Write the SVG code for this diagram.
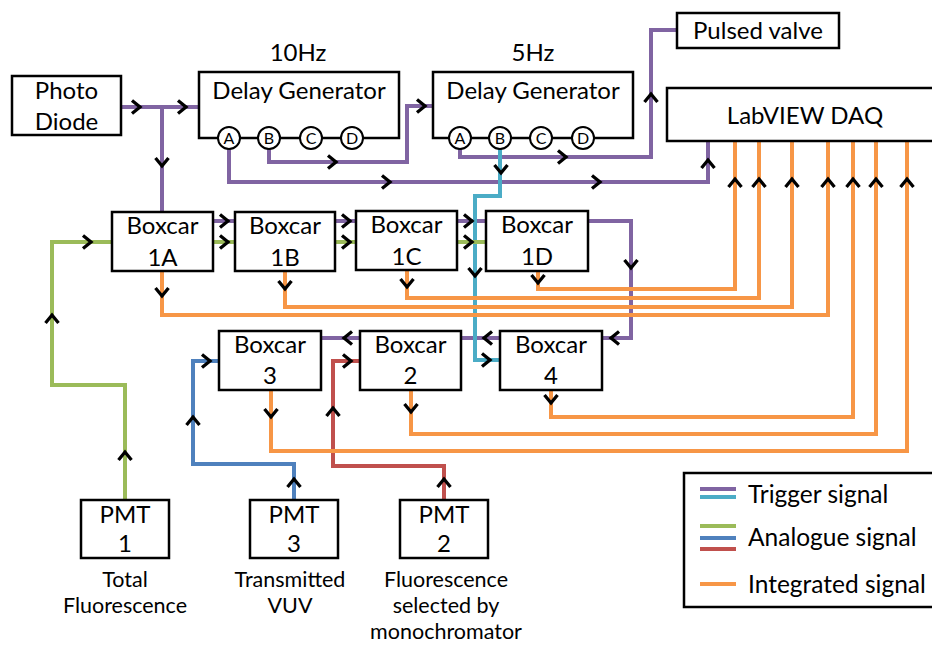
<svg xmlns="http://www.w3.org/2000/svg" xmlns:xlink="http://www.w3.org/1999/xlink" width="932" height="646" viewBox="0 0 932 646">
  <style>
    .box { fill: #ffffff; stroke: #000000; stroke-width: 2.5; }
    .lbl { font-family: Lato, "Open Sans", "Liberation Sans", sans-serif; font-size: 24px; fill: #000000; text-anchor: middle; }
    .cap { font-family: Lato, "Open Sans", "Liberation Sans", sans-serif; font-size: 21.5px; fill: #000000; text-anchor: middle; }
    .lgd { font-family: Lato, "Open Sans", "Liberation Sans", sans-serif; font-size: 24.5px; fill: #000000; }
    .port { fill: #ffffff; stroke: #000000; stroke-width: 2; }
    .plbl { font-family: Lato, "Open Sans", "Liberation Sans", sans-serif; font-size: 16px; fill: #000000; text-anchor: middle; }
    .w { fill: none; stroke-width: 4; stroke-linejoin: miter; }
    .trig { stroke: #8064A2; }
    .cyan { stroke: #4BACC6; }
    .ana { stroke: #9BBB59; }
    .blue { stroke: #4F81BD; }
    .red { stroke: #C0504D; }
    .int { stroke: #F79646; }
    .chev { fill: none; stroke: #000000; stroke-width: 3.3; stroke-linejoin: miter; }
  </style>
  <defs>
    <!-- open chevron pointing in +x; rotate for other directions -->
    <path id="ch" class="chev" d="M-5,-6.5 L3,0 L-5,6.5"/>
  </defs>

  <rect width="932" height="646" fill="#ffffff"/>

  <!-- signal wiring -->
  <g id="connectors">
    <!-- trigger lines -->
    <g class="w trig">
      <path d="M121,107 H199"/>
      <path d="M162,107 V212"/>
      <path d="M269,149 V162 H407 V106 H433"/>
      <path d="M229,149 V182 H708 V141"/>
      <path d="M460,149 V157 H651 V30 H677"/>
      <path d="M213,221 H235 M335,221 H356 M457,221 H486"/>
      <path d="M588,221 H631 V338 H602"/>
      <path d="M500,338 H461 M360,338 H321"/>
    </g>
    <path class="w cyan" d="M500,149 V196 H475 V360 H500"/>
    <!-- analogue lines -->
    <path class="w ana" d="M125,500 V385 H52 V242 H112 M213,242 H235 M335,242 H356 M457,242 H486"/>
    <path class="w blue" d="M294,500 V464 H193 V361 H219"/>
    <path class="w red" d="M444,500 V466 H333 V361 H360"/>
    <!-- integrated outputs to the DAQ -->
    <g class="w int">
      <path d="M538,271 V289 H735 V141"/>
      <path d="M407,270 V298 H759 V141"/>
      <path d="M285,271 V307 H792 V141"/>
      <path d="M162,271 V315 H828 V141"/>
      <path d="M551,390 V417 H853 V141"/>
      <path d="M411,390 V434 H876 V141"/>
      <path d="M271,390 V451 H907 V141"/>
    </g>
    <!-- direction marks -->
    <g id="arrows">
      <use xlink:href="#ch" transform="translate(137,107)"/>
      <use xlink:href="#ch" transform="translate(183,107)"/>
      <use xlink:href="#ch" transform="translate(333,162)"/>
      <use xlink:href="#ch" transform="translate(422,106)"/>
      <use xlink:href="#ch" transform="translate(387,182)"/>
      <use xlink:href="#ch" transform="translate(597,182)"/>
      <use xlink:href="#ch" transform="translate(563,157)"/>
      <use xlink:href="#ch" transform="translate(225,221)"/>
      <use xlink:href="#ch" transform="translate(225,242)"/>
      <use xlink:href="#ch" transform="translate(347,221)"/>
      <use xlink:href="#ch" transform="translate(347,242)"/>
      <use xlink:href="#ch" transform="translate(469,221)"/>
      <use xlink:href="#ch" transform="translate(469,242)"/>
      <use xlink:href="#ch" transform="translate(88,242)"/>
      <use xlink:href="#ch" transform="translate(207,361)"/>
      <use xlink:href="#ch" transform="translate(348,361)"/>
      <use xlink:href="#ch" transform="translate(487,360)"/>

      <use xlink:href="#ch" transform="translate(708,163) rotate(-90)"/>
      <use xlink:href="#ch" transform="translate(651,97) rotate(-90)"/>
      <use xlink:href="#ch" transform="translate(125,455) rotate(-90)"/>
      <use xlink:href="#ch" transform="translate(52,318) rotate(-90)"/>
      <use xlink:href="#ch" transform="translate(294,482) rotate(-90)"/>
      <use xlink:href="#ch" transform="translate(193,420) rotate(-90)"/>
      <use xlink:href="#ch" transform="translate(444,482) rotate(-90)"/>
      <use xlink:href="#ch" transform="translate(333,411) rotate(-90)"/>
      <use xlink:href="#ch" transform="translate(735,182) rotate(-90)"/>
      <use xlink:href="#ch" transform="translate(759,182) rotate(-90)"/>
      <use xlink:href="#ch" transform="translate(792,182) rotate(-90)"/>
      <use xlink:href="#ch" transform="translate(828,182) rotate(-90)"/>
      <use xlink:href="#ch" transform="translate(853,182) rotate(-90)"/>
      <use xlink:href="#ch" transform="translate(876,182) rotate(-90)"/>
      <use xlink:href="#ch" transform="translate(907,182) rotate(-90)"/>

      <use xlink:href="#ch" transform="translate(162,163) rotate(90)"/>
      <use xlink:href="#ch" transform="translate(501,170) rotate(90)"/>
      <use xlink:href="#ch" transform="translate(475,273) rotate(90)"/>
      <use xlink:href="#ch" transform="translate(631,265) rotate(90)"/>
      <use xlink:href="#ch" transform="translate(162,293) rotate(90)"/>
      <use xlink:href="#ch" transform="translate(285,286) rotate(90)"/>
      <use xlink:href="#ch" transform="translate(407,284) rotate(90)"/>
      <use xlink:href="#ch" transform="translate(538,280) rotate(90)"/>
      <use xlink:href="#ch" transform="translate(271,414) rotate(90)"/>
      <use xlink:href="#ch" transform="translate(411,409) rotate(90)"/>
      <use xlink:href="#ch" transform="translate(551,400) rotate(90)"/>

      <use xlink:href="#ch" transform="translate(614,338) rotate(180)"/>
      <use xlink:href="#ch" transform="translate(487,338) rotate(180)"/>
      <use xlink:href="#ch" transform="translate(347,338) rotate(180)"/>
    </g>
  </g>

  <!-- equipment -->
  <g id="photodiode">
    <rect class="box" x="12" y="76" width="109" height="59"/>
    <text class="lbl" x="66.5" y="99">Photo</text>
    <text class="lbl" x="66.5" y="130">Diode</text>
  </g>

  <g id="delaygen1">
    <text class="lbl" x="298" y="61">10Hz</text>
    <rect class="box" x="199" y="72" width="200" height="66"/>
    <text class="lbl" x="299" y="99">Delay Generator</text>
    <circle class="port" cx="229" cy="138" r="11"/><text class="plbl" x="229" y="144">A</text>
    <circle class="port" cx="269" cy="138" r="11"/><text class="plbl" x="269" y="144">B</text>
    <circle class="port" cx="311" cy="138" r="11"/><text class="plbl" x="311" y="144">C</text>
    <circle class="port" cx="352" cy="138" r="11"/><text class="plbl" x="352" y="144">D</text>
  </g>

  <g id="delaygen2">
    <text class="lbl" x="533" y="61">5Hz</text>
    <rect class="box" x="433" y="72" width="200" height="66"/>
    <text class="lbl" x="533" y="99">Delay Generator</text>
    <circle class="port" cx="460" cy="138" r="11"/><text class="plbl" x="460" y="144">A</text>
    <circle class="port" cx="500" cy="138" r="11"/><text class="plbl" x="500" y="144">B</text>
    <circle class="port" cx="541" cy="138" r="11"/><text class="plbl" x="541" y="144">C</text>
    <circle class="port" cx="583" cy="138" r="11"/><text class="plbl" x="583" y="144">D</text>
  </g>

  <g id="pulsedvalve">
    <rect class="box" x="677" y="13" width="162" height="35"/>
    <text class="lbl" x="758" y="39">Pulsed valve</text>
  </g>

  <g id="daq">
    <rect class="box" x="667" y="88" width="270" height="53"/>
    <text class="lbl" x="805" y="124">LabVIEW DAQ</text>
  </g>

  <g id="boxcar1a">
    <rect class="box" x="112" y="212" width="101" height="59"/>
    <text class="lbl" x="162.5" y="234">Boxcar</text>
    <text class="lbl" x="162.5" y="266">1A</text>
  </g>
  <g id="boxcar1b">
    <rect class="box" x="235" y="212" width="100" height="59"/>
    <text class="lbl" x="285" y="234">Boxcar</text>
    <text class="lbl" x="285" y="266">1B</text>
  </g>
  <g id="boxcar1c">
    <rect class="box" x="356" y="211" width="101" height="59"/>
    <text class="lbl" x="406.5" y="233">Boxcar</text>
    <text class="lbl" x="406.5" y="265">1C</text>
  </g>
  <g id="boxcar1d">
    <rect class="box" x="486" y="211" width="102" height="60"/>
    <text class="lbl" x="537" y="233">Boxcar</text>
    <text class="lbl" x="537" y="265">1D</text>
  </g>

  <g id="boxcar3">
    <rect class="box" x="219" y="331" width="102" height="59"/>
    <text class="lbl" x="270" y="353">Boxcar</text>
    <text class="lbl" x="270" y="384">3</text>
  </g>
  <g id="boxcar2">
    <rect class="box" x="360" y="331" width="101" height="59"/>
    <text class="lbl" x="410.5" y="353">Boxcar</text>
    <text class="lbl" x="410.5" y="384">2</text>
  </g>
  <g id="boxcar4">
    <rect class="box" x="500" y="331" width="102" height="59"/>
    <text class="lbl" x="551" y="353">Boxcar</text>
    <text class="lbl" x="551" y="384">4</text>
  </g>

  <g id="pmt1">
    <rect class="box" x="81" y="500" width="88" height="58"/>
    <text class="lbl" x="125" y="523">PMT</text>
    <text class="lbl" x="125" y="552">1</text>
    <text class="cap" x="125" y="587">Total</text>
    <text class="cap" x="125" y="613">Fluorescence</text>
  </g>
  <g id="pmt3">
    <rect class="box" x="250" y="500" width="88" height="58"/>
    <text class="lbl" x="294" y="523">PMT</text>
    <text class="lbl" x="294" y="552">3</text>
    <text class="cap" x="290" y="587">Transmitted</text>
    <text class="cap" x="290" y="613">VUV</text>
  </g>
  <g id="pmt2">
    <rect class="box" x="400" y="500" width="88" height="58"/>
    <text class="lbl" x="444" y="523">PMT</text>
    <text class="lbl" x="444" y="552">2</text>
    <text class="cap" x="446" y="587">Fluorescence</text>
    <text class="cap" x="446" y="613">selected by</text>
    <text class="cap" x="446" y="639">monochromator</text>
  </g>

  <g id="legend">
    <rect class="box" x="684" y="473" width="260" height="134"/>
    <path class="w trig" d="M700,489 H736"/>
    <path class="w cyan" d="M700,497 H736"/>
    <text class="lgd" x="748" y="503">Trigger signal</text>
    <path class="w ana" d="M700,526 H736"/>
    <path class="w blue" d="M700,538 H736"/>
    <path class="w red" d="M700,549 H736"/>
    <text class="lgd" x="748" y="546">Analogue signal</text>
    <path class="w int" d="M700,584 H736"/>
    <text class="lgd" x="748" y="593">Integrated signal</text>
  </g>
</svg>
